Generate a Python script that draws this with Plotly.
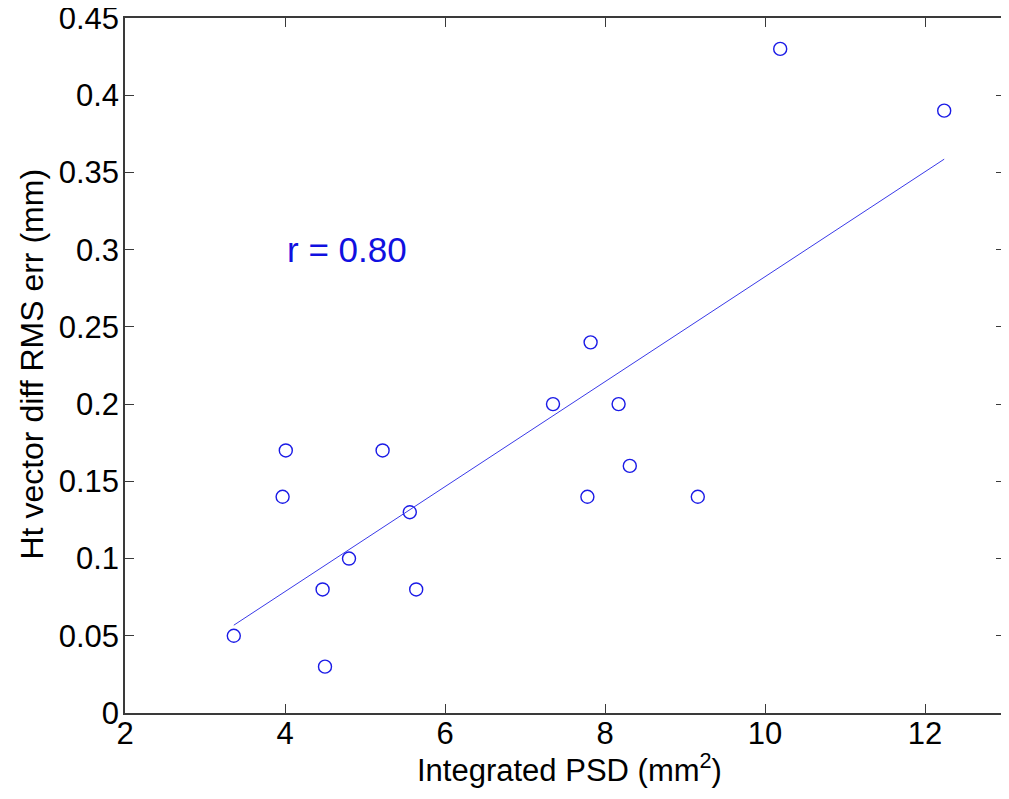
import numpy as np
import plotly.graph_objects as go

# Data
integrated_psd = [3.36, 3.97, 4.01, 4.47, 4.50, 4.80, 5.22, 5.56, 5.64,
                  7.35, 7.82, 8.17, 8.31, 7.78, 9.16, 10.19, 12.24]
rms_err = [0.05, 0.14, 0.17, 0.08, 0.03, 0.10, 0.17, 0.13, 0.08,
           0.20, 0.24, 0.20, 0.16, 0.14, 0.14, 0.43, 0.39]
x_ticks = [2, 4, 6, 8, 10, 12]
y_ticks = [0, 0.05, 0.1, 0.15, 0.2, 0.25, 0.3, 0.35, 0.4, 0.45]
y_tick_text = ["0", "0.05", "0.1", "0.15", "0.2", "0.25", "0.3", "0.35", "0.4", "0.45"]
x_title = "Integrated PSD (mm<sup>2</sup>)"
y_title = "Ht vector diff RMS err (mm)"
r_label = "r = 0.80"

x = np.array(integrated_psd)
y = np.array(rms_err)
slope, intercept = np.polyfit(x, y, 1)
fit_x = [x.min(), x.max()]
fit_y = [slope * v + intercept for v in fit_x]

FONT = "Liberation Sans, Arial, Helvetica, sans-serif"
AX = "#3a3a3a"

fig = go.Figure()
fig.add_trace(go.Scatter(
    x=integrated_psd, y=rms_err, mode="markers",
    marker=dict(symbol="circle-open", size=13, color="#1a1ae6",
                line=dict(width=1.4, color="#1a1ae6")),
    showlegend=False, hoverinfo="skip"))
fig.add_trace(go.Scatter(
    x=fit_x, y=fit_y, mode="lines",
    line=dict(color="#3a3ae8", width=1),
    showlegend=False, hoverinfo="skip"))

fig.add_annotation(x=4.0, y=0.30, text=r_label, showarrow=False,
                   xanchor="left", yanchor="middle",
                   font=dict(family=FONT, size=35, color="#1010e0"))

# axis titles as annotations for exact placement
fig.add_annotation(x=0.5, y=0, xref="paper", yref="paper", text=x_title,
                   showarrow=False, xanchor="center", yanchor="middle",
                   yshift=-55, xshift=4,
                   font=dict(family=FONT, size=31, color="black"))
fig.add_annotation(x=0, y=0.5, xref="paper", yref="paper", text=y_title,
                   showarrow=False, xanchor="center", yanchor="middle",
                   textangle=-90, xshift=-94, yshift=1,
                   font=dict(family=FONT, size=32, color="black"))

axis_common = dict(showline=True, linecolor=AX, linewidth=1.5, mirror="ticks",
                   ticks="inside", ticklen=9, tickwidth=1.2, tickcolor=AX,
                   showgrid=False, zeroline=False, ticklabeloverflow="allow",
                   tickfont=dict(family=FONT, size=31, color="black"))

fig.update_xaxes(range=[2, 13], tickvals=x_ticks, ticklabelstandoff=-8,
                 **axis_common)
fig.update_yaxes(range=[0, 0.45], tickvals=y_ticks, ticktext=y_tick_text,
                 ticklabelstandoff=-2, **axis_common)

# page body has an 8px default margin; size the figure so it fits the window
fig.update_layout(width=1001, height=791,
                  margin=dict(l=117, r=4, t=10, b=86, autoexpand=False),
                  paper_bgcolor="white", plot_bgcolor="white")

fig.write_html("out.html")
